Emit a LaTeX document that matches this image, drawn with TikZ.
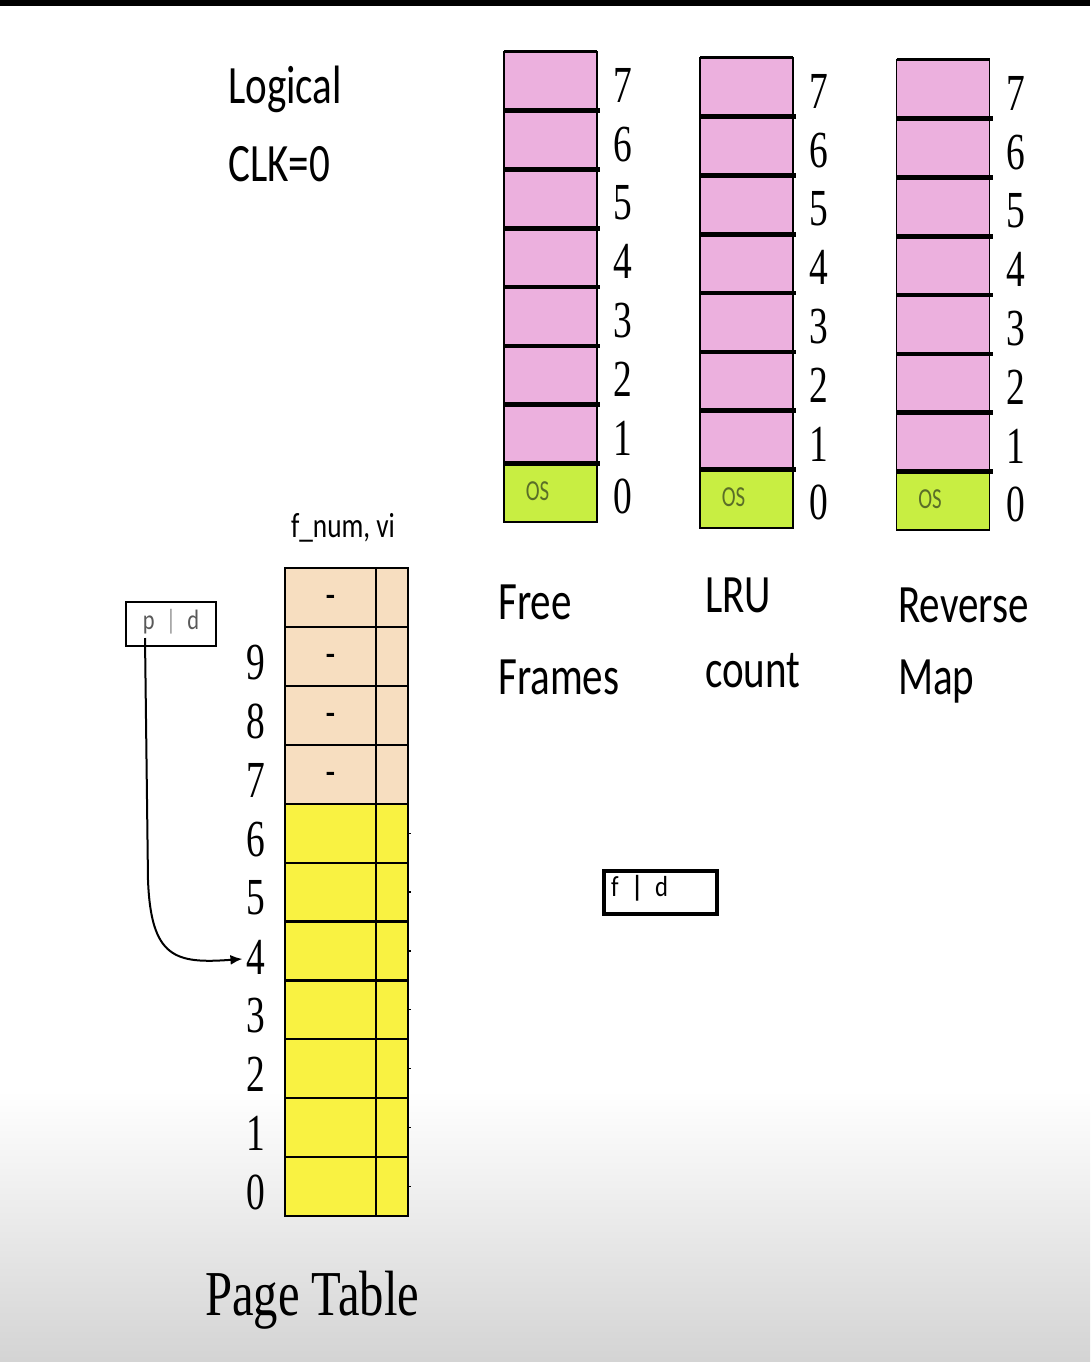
\documentclass[tikz,border=0pt]{standalone}
\usepackage{fontspec}
\setmainfont{Liberation Serif}
\newfontfamily\calib{Carlito}
\usetikzlibrary{arrows.meta}
\definecolor{pinkc}{RGB}{236,176,222}
\definecolor{osgreen}{RGB}{200,238,66}
\definecolor{ostext}{RGB}{90,110,40}
\definecolor{tanc}{RGB}{247,222,192}
\definecolor{yel}{RGB}{249,242,66}
\newcommand{\sqz}[2]{\scalebox{#1}[1]{#2}}
\begin{document}
\begin{tikzpicture}[x=1pt,y=-1pt,
  cell/.style={draw=black, line width=1.5pt, fill=pinkc, minimum width=93pt, minimum height=58.75pt, inner sep=0pt, outer sep=0pt},
  oscell/.style={cell, fill=osgreen},
  ptcell/.style={draw=black, line width=2.2pt, minimum width=123pt, minimum height=58.9pt, inner sep=0pt, outer sep=0pt},
  digit/.style={inner sep=0pt, font=\fontsize{52}{52}\selectfont},
  sep/.style={line width=4.5pt},
  bigsans/.style={anchor=base west, inner sep=0pt, font=\calib\fontsize{54}{54}\selectfont},
  conn/.style={line width=2pt, -{Latex[length=12pt,width=10pt]}}
]
\useasboundingbox (0,0) rectangle (1090,1362);
\fill[white] (0,0) rectangle (1090,1362);
\shade[top color=white, bottom color=black!17] (0,1090) rectangle (1090,1362);
\fill[black] (0,0) rectangle (1090,6);

% Titles
\node[bigsans] (logical) at (228,104) {\sqz{0.76}{Logical}};
\node[bigsans] (clk) at (228,181) {\sqz{0.76}{CLK=0}};

% Frame columns
\foreach \cx/\tp/\nm in {550.5/52/ff, 746.5/58/lru, 943/60/rm}{
  \node[oscell] (\nm0) at (\cx, \tp+7*58.75+29.375) {};
  \node[inner sep=0pt, text=ostext, font=\calib\fontsize{29}{29}\selectfont] (\nm os) at ([xshift=-13pt,yshift=1pt]\nm0.center) {\sqz{0.72}{OS}};
  \foreach \i in {1,...,7}{
    \node[cell] (\nm\i) at (\cx, \tp+7*58.75-\i*58.75+29.375) {};
  }
  \draw[line width=3pt] (\nm7.north west) -- (\nm7.north east);
  \foreach \i in {1,...,7}{
    \draw[sep] (\nm\i.south west) -- ([xshift=3pt]\nm\i.south east);
  }
  \foreach \i in {0,...,7}{
    \node[digit] (\nm l\i) at ([xshift=26pt,yshift=-4pt]\nm\i.east) {\sqz{0.72}{\i}};
  }
}

\node[bigsans] (free) at (498,619) {\sqz{0.76}{Free}};
\node[bigsans] (frames) at (498,694) {\sqz{0.76}{Frames}};
\node[bigsans] (lru) at (705,612) {\sqz{0.76}{LRU}};
\node[bigsans] (count) at (705,687) {\sqz{0.76}{count}};
\node[bigsans] (reverse) at (898,622) {\sqz{0.76}{Reverse}};
\node[bigsans] (map) at (898,694) {\sqz{0.76}{Map}};

% Page table
\node[inner sep=0pt, font=\calib\fontsize{35}{35}\selectfont] (fnum) at (343,528) {\sqz{0.78}{f\_num, vi}};
\foreach \r in {0,...,6}{
  \node[ptcell, fill=yel] (pt\r) at (346.5, 1216-\r*58.9-29.45) {};
  \draw[line width=1.2pt] (pt\r.east) -- ++(3,0);
}
\foreach \r in {7,...,10}{
  \node[ptcell, fill=tanc] (pt\r) at (346.5, 1216-\r*58.9-29.45) {};
  \node[inner sep=0pt, font=\calib\bfseries\fontsize{30}{30}\selectfont] (dash\r) at ([xshift=45.5pt,yshift=-3pt]pt\r.west) {-};
}
\draw[line width=1.8pt] ([xshift=91pt]pt10.north west) -- ([xshift=91pt]pt0.south west);
\draw[line width=2.4pt] (pt10.north west) rectangle (pt0.south east);
\foreach \r in {0,...,9}{
  \node[digit] (pl\r) at ([xshift=-29pt,yshift=-6pt]pt\r.west) {\sqz{0.72}{\r}};
}
\node[anchor=base west, inner sep=0pt, font=\fontsize{64}{64}\selectfont] (ptitle) at (205,1315) {\sqz{0.76}{Page Table}};

% p|d box
\node[draw, line width=2.5pt, minimum width=90pt, minimum height=44pt, inner sep=0pt] (pd) at (171,624) {};
\node[inner sep=0pt, text=black!65, font=\calib\fontsize{28}{28}\selectfont] (pdtext) at (171,622) {\sqz{0.8}{p\hspace{14pt}{\color{black!40}|}\hspace{14pt}d}};
\coordinate (pstart) at (145,638);
\draw[conn] (pstart) -- (148,880) .. controls (151,958) and (175,964) .. ([xshift=-4pt,yshift=-2pt]pl4.west);

% f|d box
\node[draw, line width=4pt, minimum width=113pt, minimum height=43pt, inner sep=0pt] (fd) at (660.5,892.5) {};
\node[anchor=west, inner sep=0pt, font=\calib\fontsize{29}{29}\selectfont] (fdtext) at (611,888) {\sqz{0.85}{f\hspace{15pt}\textbf{|}\hspace{14pt}d}};
\end{tikzpicture}
\end{document}
